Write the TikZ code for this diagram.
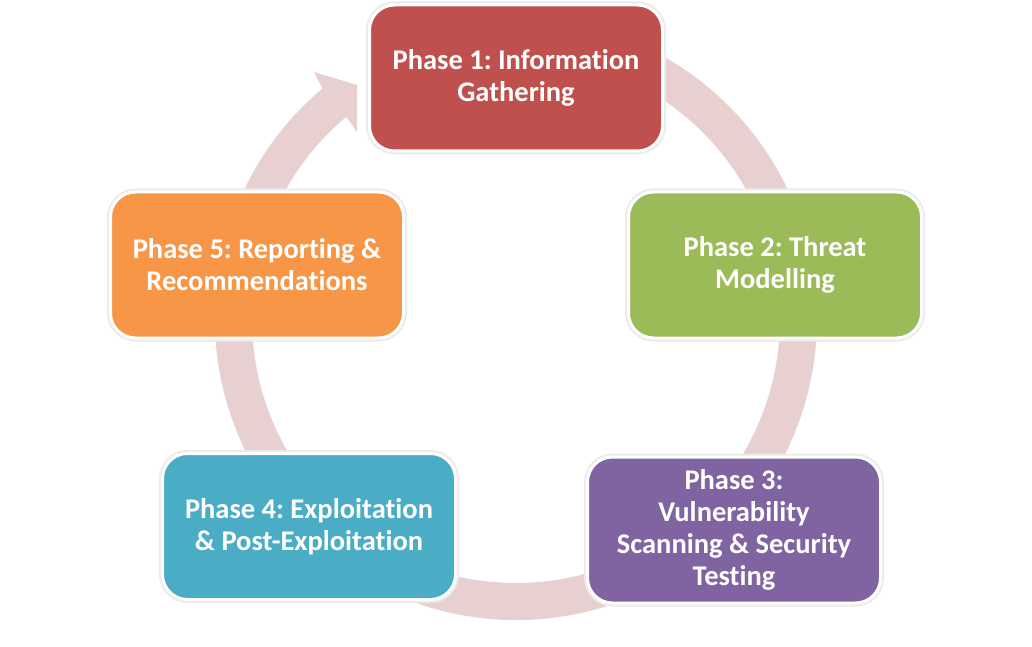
\documentclass[tikz,border=0pt]{standalone}
\usepackage{fontspec}
\setmainfont{Carlito}[Ligatures={NoCommon,NoRare,NoContextual}]
\frenchspacing
\definecolor{ringc}{RGB}{232,208,209}
\definecolor{p1c}{RGB}{192,80,77}
\definecolor{p2c}{RGB}{155,187,89}
\definecolor{p3c}{RGB}{128,100,162}
\definecolor{p4c}{RGB}{75,172,198}
\definecolor{p5c}{RGB}{247,150,70}
\begin{document}
\begin{tikzpicture}[x=1pt,y=1pt,
  phasebox/.style={rectangle, rounded corners=25pt, minimum width=293pt, minimum height=146pt,
    draw=white, line width=3pt, text=white, align=center,
    font=\fontsize{28.5}{32}\selectfont\bfseries\frenchspacing,
    preaction={draw=black!8, line width=7pt}}]
\useasboundingbox (0,0) rectangle (1032,646);
\coordinate (C) at (516,327);
% circular arrow
\fill[ringc] ([shift={(80:301pt)}]C) arc[start angle=80, end angle=-230, radius=301pt]
  -- (314,574) -- (357,561) -- (357,514)
  -- ([shift={(130:264pt)}]C) arc[start angle=-230, end angle=80, radius=264pt] -- cycle;
% phases
\node[phasebox, fill=p1c] (p1) at (516,568) {Phase 1: Information\\Gathering};
\node[phasebox, fill=p2c] (p2) at (775,381) {Phase 2: Threat\\Modelling};
\node[phasebox, fill=p3c] (p3) at (734,116) {Phase 3:\\Vulnerability\\Scanning \& Security\\Testing};
\node[phasebox, fill=p4c] (p4) at (309,119.5) {Phase 4: Exploitation\\\& Post-Exploitation};
\node[phasebox, fill=p5c] (p5) at (257,381) {Phase 5: Reporting \&\\Recommendations};
\end{tikzpicture}
\end{document}
